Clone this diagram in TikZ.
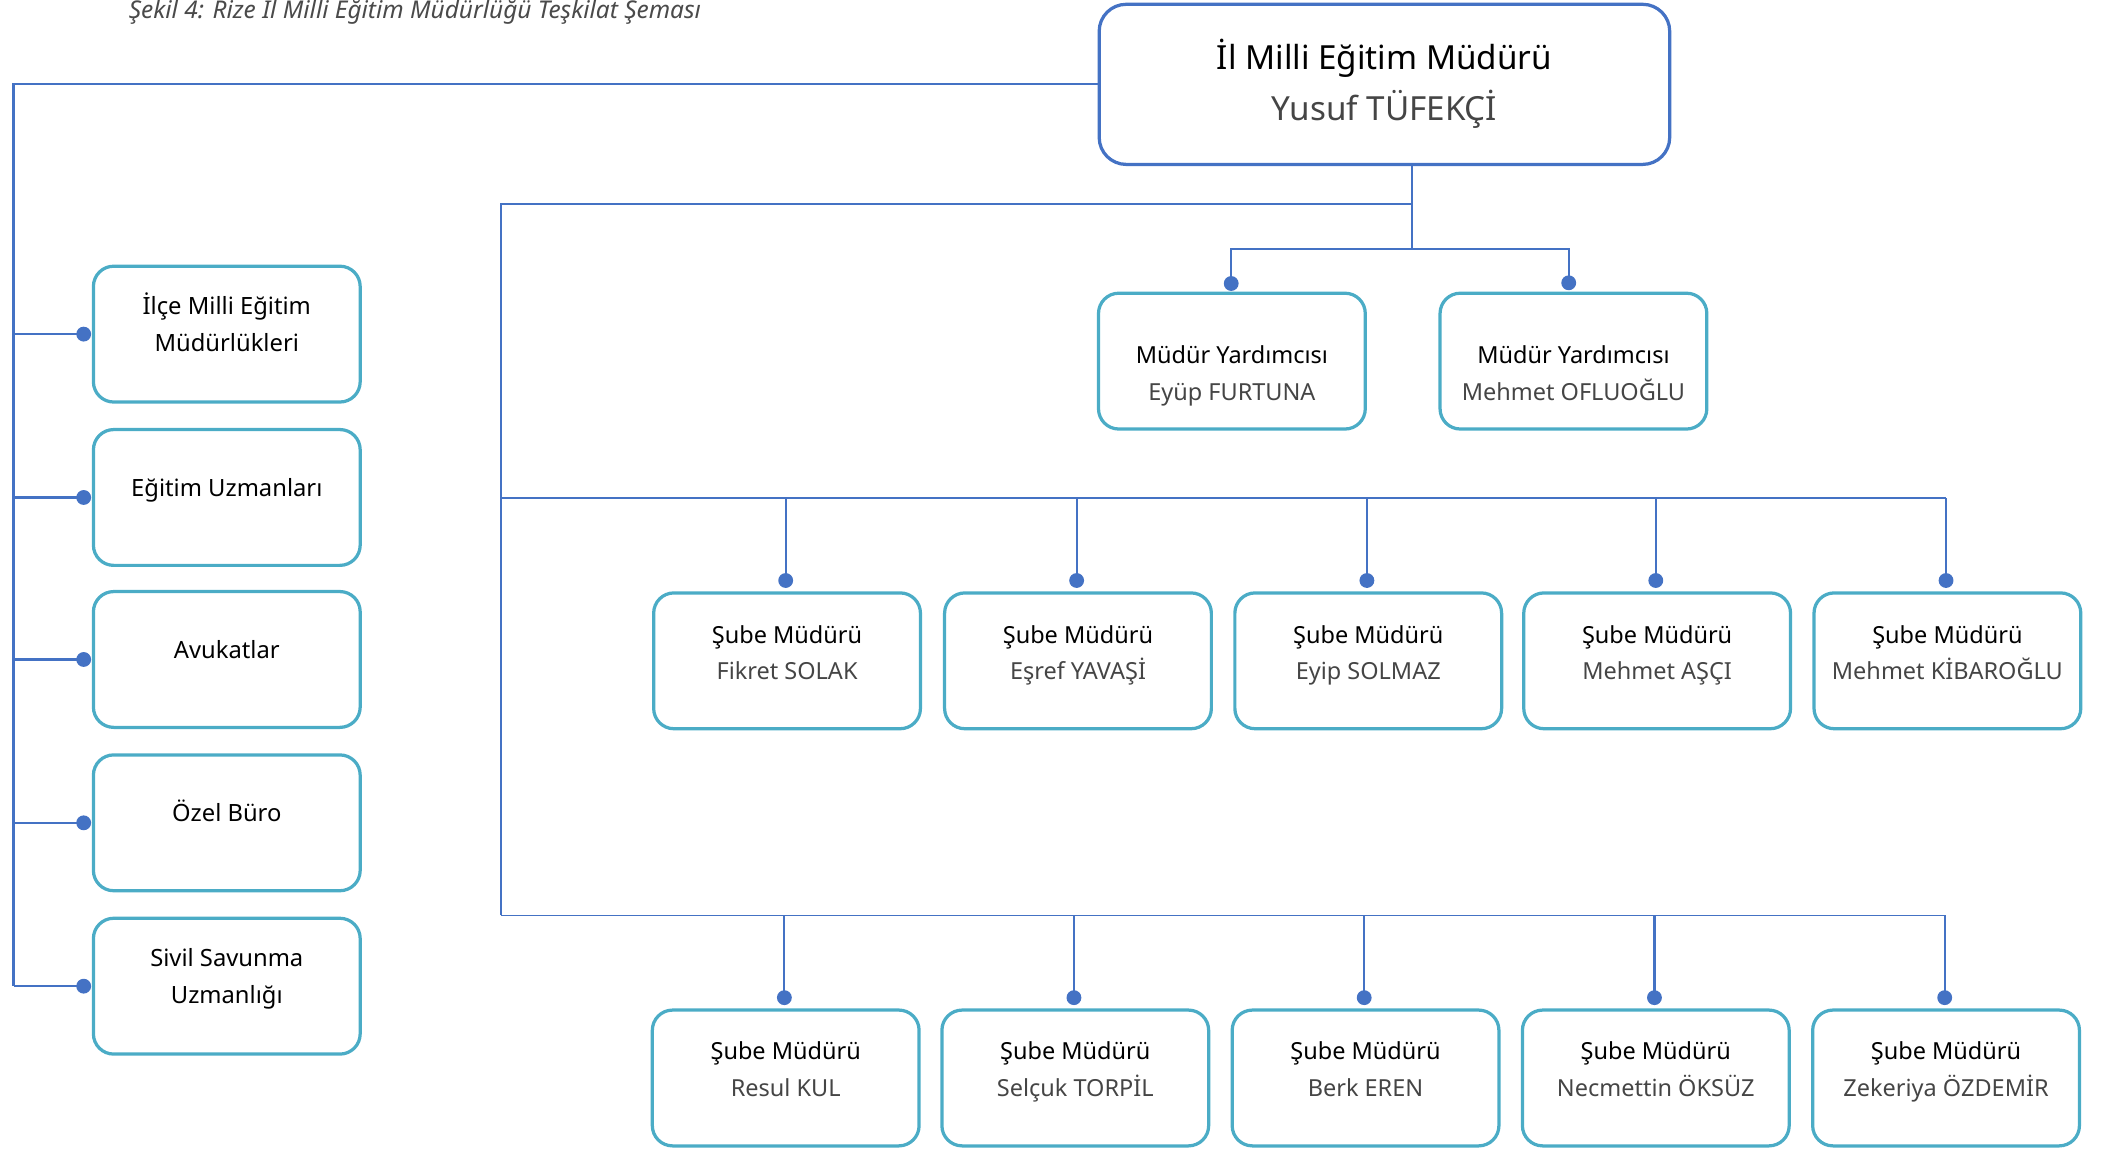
\documentclass[tikz,border=0pt]{standalone}
\usepackage{fontspec}
\setmainfont{Noto Sans}
\definecolor{cblue}{HTML}{4472C4}
\definecolor{cteal}{HTML}{4BACC6}
\definecolor{cname}{HTML}{454545}
\definecolor{ccap}{HTML}{4A4A4A}
\newcommand\pername[1]{{\color{cname}\strut#1}}
\begin{document}
\begin{tikzpicture}[x=0.5pt,y=-0.5pt,
  tealbox/.style={draw=cteal,line width=1.2pt,rounded corners=7.5pt,minimum width=98.8pt,minimum height=50.3pt,inner sep=0pt},
  mainbox/.style={draw=cblue,line width=1.2pt,rounded corners=10pt,minimum width=211.3pt,minimum height=59.3pt,inner sep=0pt},
  dotn/.style={circle,fill=cblue,minimum size=5.5pt,inner sep=0pt},
  conn/.style={draw=cblue,line width=0.8pt},
  thinconn/.style={draw=cblue,line width=0.5pt},
  ttl/.style={align=center,inner sep=0pt,font=\fontsize{8.7}{13.5}\selectfont},
  lttl/.style={align=center,inner sep=0pt,font=\fontsize{8.8}{14}\selectfont},
  mttl/.style={align=center,inner sep=0pt,font=\fontsize{12.3}{19}\selectfont},
]
\useasboundingbox (0,0) rectangle (1567.4,854);

% caption
\node[anchor=base west,inner sep=0pt,font=\fontsize{9.05}{10}\selectfont\itshape,text=ccap] (cap) at (95,14) {Şekil 4: Rize İl Milli Eğitim Müdürlüğü Teşkilat Şeması};

% main box
\node[mainbox] (main) at (1025.5,62.5) {};
\node[mttl] (maint) at (1025.5,63) {\strut İl Milli Eğitim Müdürü\\\pername{Yusuf TÜFEKÇİ}};

% deputies
\node[tealbox] (yA) at (912.5,267.5) {};
\node[tealbox] (yB) at (1165.5,267.5) {};
\node[ttl] (yAt) at (912.5,277.5) {\strut Müdür Yardımcısı\\\pername{Eyüp FURTUNA}};
\node[ttl] (yBt) at (1165.5,277.5) {\strut Müdür Yardımcısı\\\pername{Mehmet OFLUOĞLU}};
\node[dotn] (dA) at (912,210) {};
\node[dotn] (dB) at (1162,209.5) {};

% left boxes
\foreach \i/\y in {1/247.5,2/368.5,3/488.5,4/609.5,5/730.5}{
  \node[tealbox] (L\i) at (168,\y) {};
  \node[dotn] (dL\i) at (62,\y) {};
}
\node[lttl] (L1t) at (168,241) {\strut İlçe Milli Eğitim\\\strut Müdürlükleri};
\node[lttl] (L2t) at (168,362) {\strut Eğitim Uzmanları};
\node[lttl] (L3t) at (168,482) {\strut Avukatlar};
\node[lttl] (L4t) at (168,603) {\strut Özel Büro};
\node[lttl] (L5t) at (168,724) {\strut Sivil Savunma\\\strut Uzmanlığı};

% row 1
\foreach \i/\x/\n in {1/583/Fikret SOLAK,2/798.5/Eşref YAVAŞİ,3/1013.5/Eyip SOLMAZ,4/1227.5/Mehmet AŞÇI,5/1442.5/Mehmet KİBAROĞLU}{
  \node[tealbox] (S\i) at (\x,489.5) {};
  \node[ttl] (S\i t) at (\x,484.5) {\strut Şube Müdürü\\\pername{\n}};
  \node[dotn] (dS\i) at (\x-1,430) {};
}
% row 2
\foreach \i/\x/\n in {1/582/Resul KUL,2/796.5/Selçuk TORPİL,3/1011.5/Berk EREN,4/1226.5/Necmettin ÖKSÜZ,5/1441.5/Zekeriya ÖZDEMİR}{
  \node[tealbox] (T\i) at (\x,798.5) {};
  \node[ttl] (T\i t) at (\x,793) {\strut Şube Müdürü\\\pername{\n}};
  \node[dotn] (dT\i) at (\x-1,739) {};
}

% coordinates
\coordinate (jtop) at (1046,151);
\coordinate (jA) at (1046,184.5);
\coordinate (t1) at (371,151);
\coordinate (t2) at (371,369);
\coordinate (t3) at (371,678);
\coordinate (lb) at (10,730.5);

% connectors
\draw[conn] (main.west) -- (main.west -| lb) -- (lb);
\foreach \i in {1,...,5}{\draw[conn] (dL\i -| lb) -- (dL\i.center);}
\draw[conn] (main.south -| jA) -- (jA);
\draw[conn] (dA.center) |- (jA) -| (dB.center);
\draw[thinconn] (jtop) -- (t1) -- (t3);
\draw[thinconn] (t2) -- (dS5 |- t2);
\draw[thinconn] (t3) -- (dT5 |- t3);
\foreach \i in {1,...,5}{
  \draw[conn] (dS\i |- t2) -- (dS\i.center);
  \draw[conn] (dT\i |- t3) -- (dT\i.center);
}
\end{tikzpicture}
\end{document}
